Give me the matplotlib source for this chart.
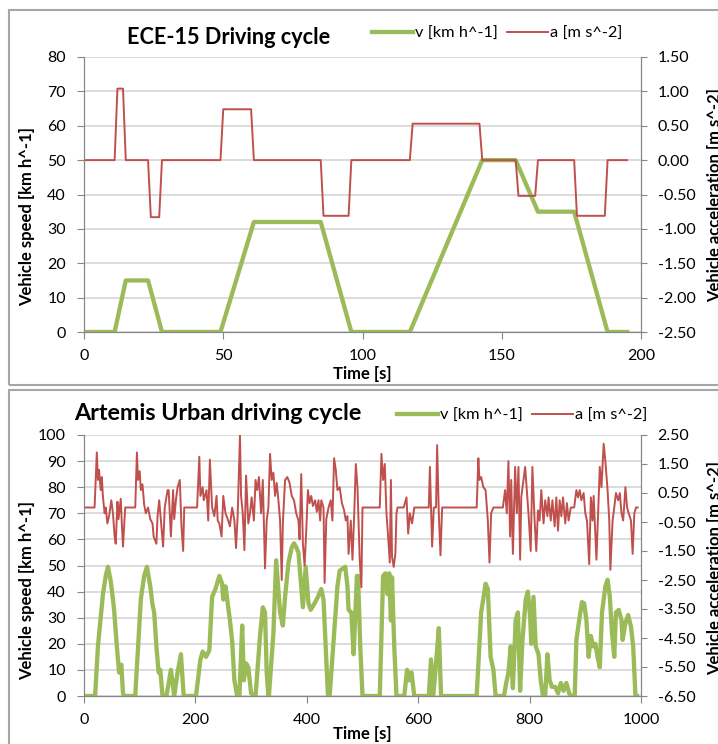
import matplotlib
matplotlib.use("Agg")
import matplotlib.pyplot as plt
from matplotlib.ticker import FormatStrFormatter
from matplotlib.lines import Line2D
from matplotlib.patches import Rectangle
import numpy as np

plt.rcParams['font.family'] = ['Lato', 'DejaVu Sans']
plt.rcParams['axes.unicode_minus'] = False

# ---------------- ECE-15 data ----------------
ece_t_v = [0, 11, 15, 23, 28, 49, 61, 85, 96, 117, 143, 155, 163, 176, 188, 195]
ece_v = [0, 0, 15, 15, 0, 0, 32, 32, 0, 0, 50, 50, 35, 35, 0, 0]
ece_t_a = [0, 11, 12, 14, 15, 23, 24, 27, 28, 49, 50, 60, 61, 85, 86, 95, 96,
           117, 118, 142, 143, 155, 156, 162, 163, 176, 177, 187, 188, 195]
ece_a = [0, 0, 1.04, 1.04, 0, 0, -0.83, -0.83, 0, 0, 0.74, 0.74, 0, 0, -0.81, -0.81, 0,
         0, 0.53, 0.53, 0, 0, -0.52, -0.52, 0, 0, -0.81, -0.81, 0, 0]

# ---------------- Artemis Urban data ----------------
art_t_v = [0, 20, 25, 34, 39, 43, 48, 52, 54, 59, 63, 67, 70, 72, 92, 102, 108, 113, 119, 123,
           126, 130, 134, 137, 141, 148, 156, 162, 168, 174, 179, 201, 209, 213, 219, 225, 230,
           236, 243, 248, 250, 254, 257, 262, 266, 270, 275, 279, 284, 287, 291, 295, 300, 308,
           316, 321, 325, 328, 331, 332, 340, 345, 352, 357, 361, 367, 373, 377, 381, 385, 389,
           393, 398, 400, 403, 407, 414, 420, 426, 430, 438, 441, 455, 459, 466, 469, 473, 475,
           480, 484, 490, 492, 496, 500, 531, 537, 541, 545, 548, 551, 553, 557, 561, 575, 580,
           584, 588, 593, 619, 623, 627, 633, 637, 641, 705, 713, 721, 725, 730, 735, 739, 754,
           758, 762, 766, 770, 775, 779, 783, 787, 793, 797, 801, 803, 807, 811, 816, 820, 824,
           828, 832, 836, 840, 846, 851, 856, 861, 866, 871, 875, 881, 884, 889, 894, 898, 902,
           906, 910, 914, 918, 922, 926, 930, 936, 940, 944, 948, 952, 955, 960, 965, 967, 972,
           977, 982, 986, 990, 993]
art_v = [0, 0, 19, 39, 46, 49.5, 44, 37, 33, 19, 9, 12, 1, 0, 0, 37, 46, 49.5, 42, 35,
         32, 19, 9, 10, 0, 0, 10, 0, 9, 16, 0, 0, 14, 17, 15, 17.5, 38,
         41, 46, 43, 37, 42, 37, 29, 21, 6, 0, 0, 27, 6, 12.5, 11, 1, 0,
         23, 34, 32, 9, 0, 0, 24, 52, 32, 27, 38, 51, 57, 58.5, 57, 55, 44.5,
         34, 49.5, 44, 35.5, 33, 35.5, 38, 41, 37, 0, 0, 42, 48, 49, 49.5, 42, 33,
         32, 16, 46, 46, 19, 0, 0, 46, 47, 39, 47, 29, 45.5, 19, 0, 0, 10,
         6, 9, 0, 0, 14, 0, 15, 26, 0, 0, 32, 43, 41, 15, 10, 0, 0,
         5, 9, 19, 3, 29, 32, 2, 21, 37, 40, 30, 20, 38, 19, 16, 6, 0,
         0, 16, 6, 3.5, 3.5, 1, 5, 2, 5, 1, 0, 0, 21.5, 29, 36, 35.5, 29,
         15, 23, 19, 20, 15, 11, 32, 42, 44.5, 38, 24, 15, 32, 33, 29, 21.5, 28,
         31, 26.5, 19, 0, 0]

art_t_a = [0, 19, 23, 25, 27, 30, 32, 34, 37, 39, 42, 45, 49, 52, 55, 57, 60, 62, 66, 68, 70, 74,
           92, 95, 97, 100, 102, 105, 108, 111, 115, 119, 123, 125, 130, 132, 135, 139, 142, 145,
           150, 152, 156, 160, 162, 165, 168, 172, 175, 178, 180, 203,
           207, 209, 213, 215, 220, 223, 226, 230, 234, 238, 240, 243, 247, 250, 254, 258, 262,
           266, 270, 273, 276, 280, 282, 285, 288, 291, 295, 298, 301, 305, 308, 311, 314, 318,
           321, 325, 328, 331, 334, 337, 340, 343, 346, 349, 352, 355, 357, 361, 365, 369, 373,
           377, 381, 385, 387, 390, 393, 396, 399, 402, 405, 408, 411, 415, 418, 421, 424, 426,
           430, 432, 435, 439, 443, 446, 449, 452, 455, 459, 463, 467, 470, 473, 475, 479, 482,
           485, 488, 491, 495, 498, 500, 531,
           534, 537, 540, 543, 546, 549, 551, 553, 556, 559, 561, 563, 574, 579, 582, 585, 589,
           593, 619, 621, 625, 628, 632, 634, 637, 640, 643, 705,
           708, 710, 713, 717, 721, 725, 728, 731, 735, 738, 752, 756, 759, 762, 765, 767, 770,
           774, 777, 780, 783, 785, 789, 792, 795, 798, 802, 805, 809, 812, 815, 818, 821, 825,
           828, 832, 834, 838, 841, 845, 848, 851, 854, 857, 860, 864, 867, 870, 874, 880, 884,
           887, 890, 893, 897, 900, 903, 907, 910, 913, 915, 918, 920, 923, 926, 929, 933, 936,
           940, 943, 945, 949, 952, 955, 959, 962, 965, 968, 972, 975, 978, 982, 985, 988, 991,
           994]
art_a = [0, 0, 1.9, 0.95, 1.3, 0.6, 1.05, 0.37, -0.2, 0, -0.55, -0.3, 0.25, -0.2, -1.0, -1.25,
         0.2, -0.4, 0.3, -0.6, -1.35, 0,
         0, 1.9, 0.95, 1.25, 0.6, 0.8, 0.1, -0.2, 0, -0.4, -0.55, -1.0, -1.25, -0.3, 0.25, -0.65,
         -1.35, 0,
         0.6, 0.6, -1.0, 0.6, -0.4, 0.25, 0.7, 0.95, -0.65, -1.5, 0, 0,
         1.75, 0.4, 0.7, 0.25, 0.6, -0.45, 1.65, 0, -0.3, 0.4, -0.45, -0.55, -1.0, 0.4, -0.2,
         -0.4, -0.65, 0, -0.45, -1.4, -0.2, 2.5, 0.4, -0.2, -1.47, 1.1, -0.55, -0.2, 0.35,
         -0.45, 0.95, 0.6, 1.05, -0.2, 0.95, -2.1, -0.45, 0, 1.85, 0.95, 1.2, 0.4, 0.85, 0.25,
         -0.45, -2.5, -0.55, 0.95, 1.05, 0.85, 0.4, 0.25, -0.2, -0.45, -1.1, 1.15, -1.25, -2.0,
         -0.8, 0.6, 0.15, 0.4, 0.05, 0.25, -0.15, 0.25, -0.45, 0.25, 0, -2.6, -0.4, 0, 0.25,
         -0.45, 1.7, 1.3, 0.6, 0.7, 0.15, -0.1, -0.45, -0.3, -1.6, -0.45, -1.8, -0.3, 1.5, 0.7,
         -1.8, -2.75, 0, 0,
         1.85, 0.95, 1.5, -0.2, -1.0, -1.9, 0.95, -1.7, -2.05, -1.6, -0.2, 0, 0, 0.35, -0.9,
         -0.2, -0.55, 0, 0, 1.4, -1.35, 0, 0, 2.15, -0.2, -1.65, 0, 0,
         1.7, 0.95, 1.05, 0.7, 0.6, -0.45, -1.9, -0.2, 0, 0, 0, 0.6, -0.2, 1.6, -1.0, 0.95,
         -1.6, 1.4, -0.2, 1.4, -1.8, 0.35, 0.95, 1.4, 0.6, -0.2, -1.5, 1.4, -0.45, -1.5, -0.1,
         -0.45, 0.6, -0.55, 0.25, -0.3, 0.35, -0.45, 0.25, -0.65, 0.35, -0.8, 0.25, -0.3, 0.35,
         -0.55, 0.15, -0.45, 0, 0, 0.6,
         0.35, 0.6, 0.25, 0.5, -0.2, -0.45, -1.95, 0.35, -0.45, 0.4, -0.9, -1.8, -0.2, 1.4,
         0.7, 2.2, 1.6, 0.6, -0.45, -2.15, -0.45, 0, 0.5, 0.25, 0.5, -0.2, -0.45, 0.7, 0,
         -0.2, -0.45, -1.6, -0.2, 0, 0]

GREEN = '#9bbb59'
RED = '#c0504d'
GRID = '#d9d9d9'
SPINE = '#868686'

W, H = 718, 744
fig = plt.figure(figsize=(W / 100, H / 100), dpi=100)

# panel borders
for (y0, y1) in [(10, 385), (390, 760)]:
    fig.patches.append(Rectangle((9 / W, 1 - y1 / H), (730 - 9) / W, (y1 - y0) / H,
                                 transform=fig.transFigure, fill=False,
                                 edgecolor='#a6a6a6', linewidth=1.5))


def px_axes(l, t, r, b):
    return [l / W, 1 - b / H, (r - l) / W, (b - t) / H]


def style(ax, ax2):
    ax.spines['top'].set_visible(False)
    ax2.spines['top'].set_visible(False)
    for s in ['left', 'bottom', 'right']:
        ax.spines[s].set_color(SPINE)
        ax2.spines[s].set_color(SPINE)
    ax.tick_params(axis='both', colors=SPINE, labelcolor='black', labelsize=11.5,
                   length=5, direction='out')
    ax.tick_params(axis='y', pad=8)
    ax.tick_params(axis='x', pad=7)
    ax2.tick_params(axis='y', colors=SPINE, labelcolor='black', labelsize=11.5,
                    length=4, direction='out', pad=8)
    ax.yaxis.grid(True, color=GRID, linewidth=1.3)
    ax.set_axisbelow(True)


def panel(rect, tv, v, ta, a, xmax, xticks, ymax, yticks, a_lo, a_hi, a_ticks,
          title, title_size, title_x, title_y, leg_x, leg_y, ylab_cy, ylab2_cy, xlab_y):
    ax = fig.add_axes(px_axes(*rect))
    ax2 = ax.twinx()
    ax.plot(tv, v, color=GREEN, linewidth=3.1, solid_joinstyle='round')
    ax2.plot(ta, a, color=RED, linewidth=1.4)
    ax.set_xlim(0, xmax)
    ax.set_ylim(0, ymax)
    ax.set_xticks(xticks)
    ax.set_yticks(yticks)
    ax2.set_ylim(a_lo, a_hi)
    ax2.set_yticks(a_ticks)
    ax2.yaxis.set_major_formatter(FormatStrFormatter('%.2f'))
    style(ax, ax2)
    fig.text(title_x / W, 1 - title_y / H, title, fontsize=title_size, fontweight='bold',
             ha='center', va='center')
    handles = [Line2D([], [], color=GREEN, linewidth=3.1),
               Line2D([], [], color=RED, linewidth=1.4)]
    fig.legend(handles, ['v [km h^-1]', 'a [m s^-2]'], loc='center left',
               bbox_to_anchor=(leg_x / W, 1 - leg_y / H), ncol=2, frameon=False,
               fontsize=11.8, handlelength=2.5, handletextpad=0.1, columnspacing=0.6,
               borderpad=0, borderaxespad=0)
    fig.text(27 / W, 1 - ylab_cy / H, 'Vehicle speed [km h^-1]', rotation=90,
             fontsize=12, fontweight='bold', ha='center', va='center')
    fig.text(707 / W, 1 - ylab2_cy / H, 'Vehicle acceleration [m s^-2]', rotation=90,
             fontsize=12, fontweight='bold', ha='left', va='center')
    fig.text(362 / W, 1 - xlab_y / H, 'Time [s]', fontsize=12, fontweight='bold',
             ha='center', va='center')
    return ax, ax2


panel((84, 57, 641, 332), ece_t_v, ece_v, ece_t_a, ece_a, 200, [0, 50, 100, 150, 200],
      80, np.arange(0, 81, 10), -2.5, 1.5, np.arange(-2.5, 1.51, 0.5),
      'ECE-15 Driving cycle', 15.6, 229, 37, 372, 34, 217, 195, 374)

panel((84, 435, 641, 696), art_t_v, art_v, art_t_a, art_a, 1000,
      [0, 200, 400, 600, 800, 1000],
      100, np.arange(0, 101, 10), -6.5, 2.5, np.arange(-6.5, 2.51, 1.0),
      'Artemis Urban driving cycle', 16.8, 218, 414, 397, 416, 590, 568, 734)

fig.savefig('out.png', dpi=100)
